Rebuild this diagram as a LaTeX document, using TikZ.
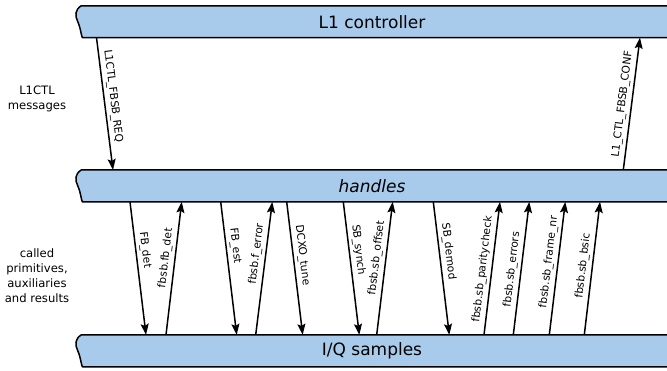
\documentclass[tikz,border=0pt]{standalone}
\usepackage{fontspec}
\setmainfont{DejaVu Sans}
\usetikzlibrary{arrows.meta,calc,backgrounds}
\definecolor{barblue}{RGB}{168,203,236}
\tikzset{
  barbox/.style={minimum width=592pt, minimum height=31.5pt, inner sep=0pt, font=\fontsize{17}{20}\selectfont},
  barline/.style={line width=1.5pt, line join=round},
  msg/.style={line width=1.5pt, -{Stealth[length=11pt,width=8pt,inset=2pt]}},
  lbl/.style={sloped, above, inner sep=3pt, font=\fontsize{10.7}{12}\selectfont},
  sidelabel/.style={align=center, font=\fontsize{11.6}{15}\selectfont}
}
\newcommand\wavybar[1]{%
  \fill[barblue] ($(#1.north west)+(5.5,0)$) .. controls ($(#1.north west)+(-1,4)$) and ($(#1.north west)+(-1,10)$) .. ($(#1.north west)+(2,16)$) .. controls ($(#1.south west)+(5,-9)$) and ($(#1.south west)+(5,-4)$) .. ($(#1.south west)+(6.5,0)$) -- ($(#1.south east)+(10,0)$) -- ($(#1.north east)+(10,0)$) -- cycle;
  \draw[barline] ($(#1.north east)+(10,0)$) -- ($(#1.north west)+(5.5,0)$) .. controls ($(#1.north west)+(-1,4)$) and ($(#1.north west)+(-1,10)$) .. ($(#1.north west)+(2,16)$) .. controls ($(#1.south west)+(5,-9)$) and ($(#1.south west)+(5,-4)$) .. ($(#1.south west)+(6.5,0)$) -- ($(#1.south east)+(10,0)$);
}
\begin{document}
\begin{tikzpicture}[x=1pt,y=-1pt]
\useasboundingbox (0,0) rectangle (667,370);
\clip (0,0) rectangle (667,370);
\node[barbox] (ctrl) at (372,21.7) {L1 controller};
\node[barbox] (hand) at (372,185.9) {\textit{handles}};
\node[barbox] (iq) at (372,350.8) {I/Q samples};
\begin{scope}[on background layer]
  \wavybar{ctrl}
  \wavybar{hand}
  \wavybar{iq}
\end{scope}
\node[sidelabel] (l1msg) at (37,99) {L1CTL\\messages};
\node[sidelabel] (called) at (37,276) {called\\primitives,\\auxiliaries\\and results};
% L1CTL messages
\draw[msg] (96.5,0 |- ctrl.south) -- node[lbl,pos=.45]{L1CTL\_FBSB\_REQ} (113,0 |- hand.north);
\draw[msg] (623.3,0 |- hand.north) -- node[lbl,pos=.49]{L1\_CTL\_FBSB\_CONF} (640,0 |- ctrl.south);
% primitives
\draw[msg] (130,0 |- hand.south) -- node[lbl,pos=.37]{FB\_det} (146,0 |- iq.north);
\draw[msg] (166,0 |- iq.north) -- node[lbl,pos=.57]{fbsb.fb\_det} (181.7,0 |- hand.south);
\draw[msg] (220.7,0 |- hand.south) -- node[lbl,pos=.34]{FB\_est} (236.7,0 |- iq.north);
\draw[msg] (255.7,0 |- iq.north) -- node[lbl,pos=.60]{fbsb.f\_error} (272.3,0 |- hand.south);
\draw[msg] (286.7,0 |- hand.south) -- node[lbl,pos=.41]{DCXO\_tune} (302.7,0 |- iq.north);
\draw[msg] (343.3,0 |- hand.south) -- node[lbl,pos=.37]{SB\_synch} (359.3,0 |- iq.north);
\draw[msg] (376.7,0 |- iq.north) -- node[lbl,pos=.57]{fbsb.sb\_offset} (392.7,0 |- hand.south);
\draw[msg] (433.3,0 |- hand.south) -- node[lbl,pos=.38]{SB\_demod} (449.3,0 |- iq.north);
\draw[msg] (484,0 |- iq.north) -- node[lbl,pos=.485]{fbsb.sb\_paritycheck} (500,0 |- hand.south);
\draw[msg] (513.3,0 |- iq.north) -- node[lbl,pos=.485]{fbsb.sb\_errors} (529.3,0 |- hand.south);
\draw[msg] (549.3,0 |- iq.north) -- node[lbl,pos=.54]{fbsb.sb\_frame\_nr} (565.3,0 |- hand.south);
\draw[msg] (584.3,0 |- iq.north) -- node[lbl,pos=.51]{fbsb.sb\_bsic} (600,0 |- hand.south);
\end{tikzpicture}
\end{document}
